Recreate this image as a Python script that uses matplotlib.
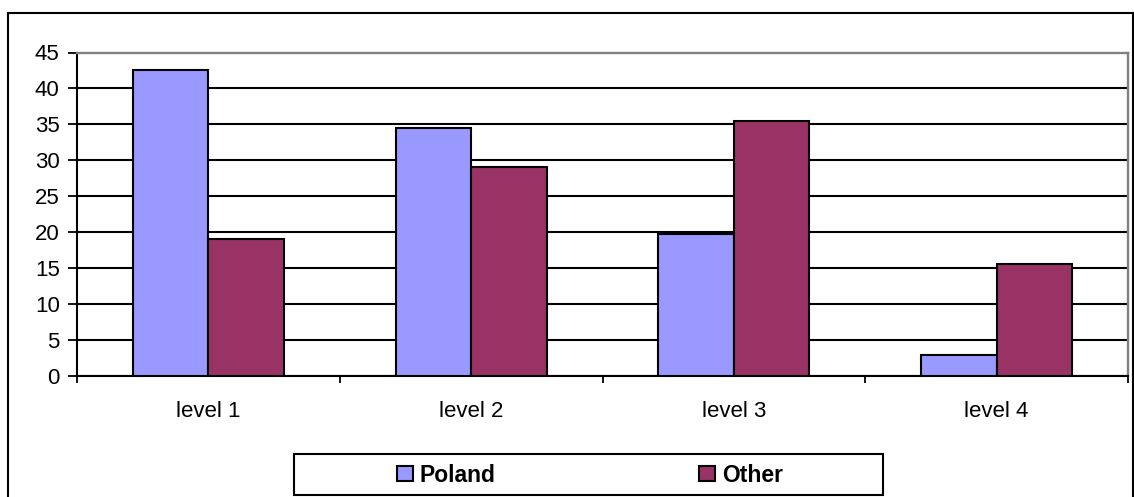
import numpy as np
import matplotlib
matplotlib.use("Agg")
import matplotlib.pyplot as plt
from matplotlib.patches import Rectangle

levels = ["level 1", "level 2", "level 3", "level 4"]
poland = [42.6, 34.5, 19.7, 2.9]
other = [19.1, 29.1, 35.5, 15.6]
series_names = ["Poland", "Other"]
series_colors = ["#9999FF", "#993366"]

plt.rcParams['font.family'] = ['Liberation Sans', 'DejaVu Sans']
plt.rcParams['font.size'] = 16

W, H = 1134, 497
fig = plt.figure(figsize=(W / 100, H / 100), dpi=100)
ax = fig.add_axes([77 / W, 1 - 376 / H, (1128 - 77) / W, (376 - 52.5) / H])

x = np.arange(len(levels))
bw = 0.287
ax.bar(x - bw / 2, poland, bw, color=series_colors[0], edgecolor="black",
       linewidth=1.5, label=series_names[0], zorder=3)
ax.bar(x + bw / 2, other, bw, color=series_colors[1], edgecolor="black",
       linewidth=1.5, label=series_names[1], zorder=3)

ax.set_xlim(-0.5, len(levels) - 0.5)
ax.set_ylim(0, 45)
ax.set_yticks(np.arange(0, 46, 5))
ax.set_xticks(x)
ax.set_xticklabels(levels)
ax.set_xticks(np.arange(-0.5, len(levels), 1), minor=True)
ax.tick_params(axis="x", which="major", length=0, pad=18)
ax.tick_params(axis="x", which="minor", length=5, width=1.3, direction="out")
ax.tick_params(axis="y", length=6.5, width=1.3, direction="out", pad=6)

ax.set_axisbelow(True)
ax.yaxis.grid(True, color="black", linewidth=1.5)
ax.get_ygridlines()[-1].set_visible(False)

for side in ["left", "bottom"]:
    ax.spines[side].set_color("black")
    ax.spines[side].set_linewidth(1.5)
for side in ["top", "right"]:
    ax.spines[side].set_color("#808080")
    ax.spines[side].set_linewidth(1.7)

# outer chart border
fig.patches.append(Rectangle((8 / W, -0.1), (1132.5 - 8) / W, 1.1 - 13 / H,
                             transform=fig.transFigure, fill=False,
                             edgecolor="black", linewidth=1.5))
# legend frame
fig.patches.append(Rectangle((294 / W, 1 - 495 / H), (883 - 294) / W, (495 - 454) / H,
                             transform=fig.transFigure, fill=False,
                             edgecolor="black", linewidth=1.5))

fig.legend(loc="center left", bbox_to_anchor=(397 / W, 1 - 475 / H), ncol=2,
           frameon=False, borderpad=0, borderaxespad=0,
           handlelength=0.68, handleheight=0.68, handletextpad=0.3,
           columnspacing=8.9, prop={"weight": "bold", "size": 16.5})

fig.savefig("out.png", dpi=100)
